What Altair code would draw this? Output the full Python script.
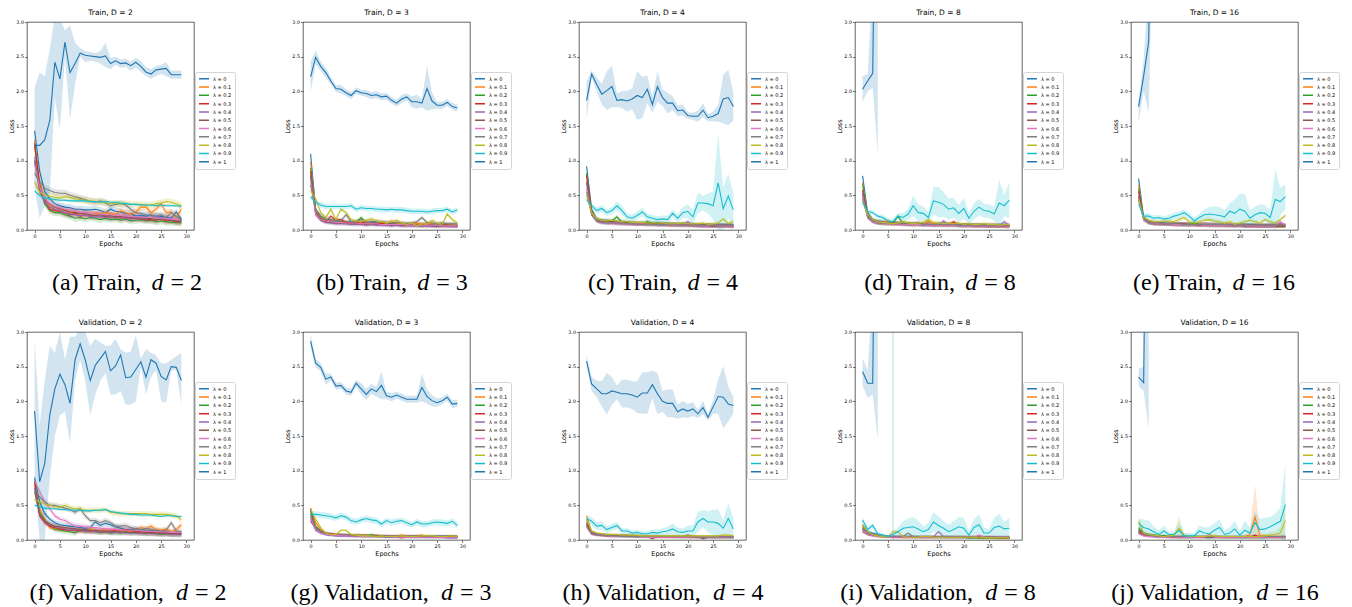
import altair as alt
import pandas as pd

LAMBDAS = ["λ = 0", "λ = 0.1", "λ = 0.2", "λ = 0.3", "λ = 0.4", "λ = 0.5",
           "λ = 0.6", "λ = 0.7", "λ = 0.8", "λ = 0.9", "λ = 1"]
COLORS = ["#1f77b4", "#ff7f0e", "#2ca02c", "#d62728", "#9467bd", "#8c564b",
          "#e377c2", "#7f7f7f", "#bcbd22", "#17becf", "#1f77b4"]
EPOCH_TICKS = [0, 5, 10, 15, 20, 25, 30]
LOSS_TICKS = [0.0, 0.5, 1.0, 1.5, 2.0, 2.5, 3.0]

# ---------------- Train, D = 2 ----------------
train_d2 = [
    [1.43,0.85,0.55,0.45,0.38,0.35,0.33,0.32,0.30,0.30,0.29,0.29,0.30,0.28,0.25,0.30,0.27,0.26,0.24,0.23,0.20,0.21,0.20,0.22,0.19,0.20,0.18,0.17,0.26,0.15],
    [1.30,0.70,0.45,0.35,0.30,0.30,0.28,0.25,0.27,0.23,0.25,0.22,0.25,0.23,0.26,0.24,0.22,0.28,0.25,0.23,0.26,0.33,0.33,0.25,0.30,0.38,0.25,0.26,0.18,0.30],
    [1.22,0.60,0.38,0.28,0.25,0.25,0.22,0.20,0.17,0.18,0.16,0.18,0.17,0.15,0.17,0.15,0.16,0.14,0.16,0.13,0.14,0.15,0.13,0.14,0.12,0.13,0.12,0.11,0.11,0.10],
    [1.25,0.65,0.42,0.30,0.28,0.27,0.25,0.22,0.24,0.20,0.22,0.20,0.21,0.19,0.20,0.18,0.19,0.17,0.18,0.16,0.17,0.16,0.15,0.15,0.14,0.16,0.13,0.14,0.12,0.12],
    [1.05,0.60,0.40,0.33,0.30,0.28,0.25,0.23,0.22,0.21,0.22,0.20,0.19,0.20,0.18,0.19,0.18,0.19,0.17,0.16,0.18,0.17,0.16,0.17,0.20,0.18,0.17,0.15,0.14,0.14],
    [1.00,0.55,0.45,0.37,0.33,0.31,0.28,0.26,0.25,0.24,0.24,0.22,0.21,0.22,0.20,0.21,0.19,0.20,0.19,0.18,0.17,0.18,0.17,0.16,0.15,0.16,0.15,0.14,0.13,0.13],
    [0.95,0.62,0.45,0.38,0.34,0.32,0.30,0.29,0.27,0.26,0.25,0.24,0.23,0.23,0.22,0.22,0.21,0.21,0.20,0.20,0.19,0.19,0.18,0.18,0.17,0.17,0.16,0.16,0.15,0.15],
    [0.82,0.70,0.60,0.57,0.54,0.53,0.53,0.50,0.48,0.46,0.44,0.41,0.40,0.42,0.39,0.35,0.37,0.38,0.36,0.30,0.25,0.24,0.22,0.21,0.20,0.22,0.18,0.25,0.20,0.14],
    [0.69,0.55,0.50,0.49,0.47,0.46,0.48,0.47,0.45,0.44,0.43,0.42,0.41,0.40,0.40,0.38,0.39,0.38,0.38,0.37,0.37,0.37,0.36,0.36,0.38,0.39,0.41,0.40,0.38,0.35],
    [0.56,0.50,0.46,0.45,0.44,0.43,0.43,0.42,0.42,0.42,0.42,0.41,0.41,0.40,0.41,0.40,0.40,0.39,0.38,0.37,0.37,0.36,0.36,0.36,0.35,0.36,0.35,0.35,0.35,0.34],
    [1.22,1.22,1.30,1.58,2.42,2.18,2.71,2.27,2.40,2.55,2.52,2.51,2.50,2.49,2.51,2.40,2.44,2.40,2.41,2.37,2.42,2.36,2.28,2.25,2.31,2.32,2.33,2.24,2.24,2.24],
]
train_d2_top_lo = [0.60,0.17,0.35,0.55,1.90,1.45,2.50,1.60,2.10,2.50,2.42,2.44,2.43,2.40,2.35,2.32,2.38,2.34,2.35,2.30,2.34,2.28,2.22,2.18,2.22,2.25,2.22,2.18,2.18,2.18]
train_d2_top_hi = [2.05,2.27,2.22,2.60,3.10,3.05,2.88,2.95,2.70,2.62,2.58,2.57,2.55,2.58,2.70,2.48,2.50,2.46,2.47,2.43,2.48,2.44,2.35,2.32,2.37,2.38,2.42,2.30,2.30,2.30]
train_d2_cyan_hw = 0.02
train_d2_spread = 0.05

# ---------------- Train, D = 3 ----------------
train_d3 = [
    [1.10,0.30,0.20,0.15,0.15,0.12,0.12,0.11,0.12,0.10,0.10,0.10,0.12,0.10,0.10,0.09,0.10,0.09,0.09,0.09,0.08,0.08,0.08,0.08,0.08,0.08,0.09,0.08,0.08,0.07],
    [0.98,0.28,0.18,0.14,0.13,0.15,0.12,0.11,0.10,0.13,0.11,0.12,0.10,0.09,0.11,0.10,0.13,0.09,0.10,0.08,0.09,0.10,0.08,0.09,0.10,0.07,0.09,0.08,0.08,0.07],
    [0.90,0.26,0.17,0.13,0.12,0.11,0.12,0.10,0.10,0.11,0.18,0.10,0.09,0.10,0.09,0.08,0.09,0.08,0.08,0.09,0.07,0.08,0.07,0.08,0.07,0.07,0.08,0.07,0.07,0.05],
    [0.85,0.25,0.16,0.12,0.20,0.14,0.15,0.11,0.10,0.10,0.12,0.09,0.10,0.09,0.10,0.08,0.09,0.08,0.07,0.08,0.08,0.07,0.08,0.07,0.07,0.06,0.07,0.07,0.06,0.06],
    [0.80,0.22,0.14,0.11,0.10,0.09,0.09,0.09,0.08,0.08,0.08,0.07,0.08,0.07,0.07,0.07,0.06,0.07,0.06,0.06,0.06,0.06,0.06,0.05,0.06,0.05,0.05,0.05,0.05,0.05],
    [0.78,0.24,0.15,0.12,0.11,0.10,0.10,0.10,0.09,0.09,0.09,0.08,0.09,0.08,0.08,0.08,0.07,0.08,0.07,0.07,0.07,0.07,0.06,0.07,0.06,0.06,0.06,0.06,0.06,0.06],
    [0.70,0.23,0.15,0.13,0.12,0.11,0.11,0.10,0.10,0.10,0.09,0.09,0.09,0.09,0.08,0.08,0.08,0.08,0.08,0.07,0.07,0.07,0.07,0.07,0.07,0.07,0.06,0.06,0.06,0.06],
    [0.65,0.30,0.20,0.16,0.14,0.15,0.13,0.22,0.12,0.12,0.15,0.12,0.11,0.13,0.12,0.11,0.10,0.11,0.10,0.09,0.10,0.12,0.18,0.11,0.10,0.09,0.10,0.09,0.09,0.09],
    [0.57,0.45,0.25,0.18,0.30,0.15,0.30,0.25,0.15,0.13,0.12,0.14,0.16,0.13,0.12,0.10,0.12,0.14,0.10,0.08,0.10,0.06,0.09,0.08,0.14,0.10,0.08,0.23,0.15,0.10],
    [0.48,0.40,0.36,0.34,0.34,0.34,0.34,0.34,0.35,0.30,0.32,0.31,0.31,0.30,0.30,0.29,0.30,0.29,0.29,0.28,0.27,0.27,0.27,0.26,0.27,0.28,0.28,0.30,0.26,0.29],
    [2.21,2.49,2.36,2.27,2.15,2.04,2.03,1.98,1.94,2.01,1.98,1.97,1.94,1.95,1.92,1.93,1.87,1.83,1.89,1.92,1.85,1.85,1.83,2.04,1.86,1.80,1.80,1.84,1.78,1.76],
]
train_d3_top_hw = [0.22,0.10,0.07,0.07,0.06,0.05,0.06,0.05,0.05,0.05,0.04,0.05,0.05,0.05,0.05,0.05,0.05,0.05,0.06,0.05,0.08,0.10,0.06,0.32,0.12,0.05,0.05,0.05,0.05,0.05]
train_d3_cyan_hw = 0.04
train_d3_spread = 0.03

# ---------------- Train, D = 4 ----------------
train_d4 = [
    [0.92,0.30,0.16,0.14,0.14,0.13,0.12,0.12,0.11,0.10,0.10,0.10,0.11,0.09,0.10,0.09,0.09,0.09,0.08,0.09,0.08,0.08,0.08,0.07,0.07,0.07,0.07,0.07,0.07,0.07],
    [0.80,0.28,0.15,0.13,0.13,0.12,0.11,0.11,0.10,0.10,0.09,0.09,0.09,0.09,0.08,0.09,0.08,0.08,0.08,0.08,0.07,0.07,0.07,0.07,0.07,0.06,0.07,0.06,0.06,0.06],
    [0.82,0.27,0.15,0.12,0.12,0.13,0.19,0.11,0.10,0.10,0.10,0.09,0.12,0.09,0.09,0.08,0.08,0.08,0.08,0.08,0.07,0.07,0.07,0.07,0.07,0.06,0.06,0.06,0.06,0.06],
    [0.78,0.26,0.14,0.12,0.11,0.11,0.10,0.10,0.10,0.09,0.09,0.09,0.08,0.09,0.08,0.08,0.08,0.07,0.08,0.07,0.07,0.07,0.07,0.06,0.06,0.06,0.06,0.06,0.06,0.05],
    [0.70,0.24,0.13,0.11,0.10,0.10,0.10,0.09,0.09,0.09,0.08,0.09,0.08,0.08,0.08,0.07,0.08,0.07,0.07,0.07,0.12,0.07,0.06,0.06,0.06,0.06,0.06,0.06,0.06,0.05],
    [0.68,0.25,0.14,0.12,0.11,0.12,0.11,0.10,0.10,0.10,0.09,0.09,0.09,0.09,0.08,0.09,0.08,0.08,0.08,0.08,0.08,0.07,0.07,0.07,0.07,0.07,0.07,0.07,0.07,0.06],
    [0.60,0.22,0.13,0.11,0.11,0.10,0.10,0.10,0.09,0.09,0.09,0.09,0.08,0.08,0.08,0.08,0.08,0.07,0.07,0.07,0.07,0.07,0.07,0.06,0.06,0.08,0.06,0.06,0.06,0.06],
    [0.55,0.22,0.13,0.11,0.11,0.10,0.10,0.10,0.09,0.09,0.09,0.08,0.08,0.08,0.08,0.08,0.08,0.08,0.07,0.07,0.07,0.07,0.07,0.07,0.07,0.07,0.07,0.07,0.07,0.07],
    [0.50,0.25,0.16,0.14,0.13,0.14,0.13,0.12,0.12,0.11,0.11,0.11,0.10,0.10,0.10,0.10,0.09,0.09,0.09,0.10,0.09,0.09,0.09,0.10,0.08,0.09,0.10,0.16,0.10,0.12],
    [0.44,0.35,0.28,0.31,0.25,0.28,0.35,0.28,0.19,0.17,0.21,0.26,0.19,0.17,0.15,0.16,0.15,0.24,0.17,0.25,0.27,0.19,0.39,0.39,0.38,0.35,0.68,0.31,0.49,0.29],
    [1.87,2.25,2.10,1.96,2.01,2.07,1.87,1.88,1.86,1.89,1.94,1.91,2.03,1.81,2.07,1.91,1.83,1.83,1.72,1.73,1.65,1.64,1.64,1.73,1.62,1.64,1.68,1.89,1.91,1.78],
]
train_d4_top_hw = [0.27,0.05,0.10,0.15,0.28,0.30,0.10,0.12,0.15,0.15,0.35,0.30,0.20,0.12,0.22,0.12,0.15,0.10,0.08,0.08,0.05,0.05,0.08,0.10,0.05,0.07,0.12,0.35,0.40,0.20]
train_d4_cyan_hw = [0.04,0.04,0.05,0.05,0.05,0.05,0.07,0.07,0.05,0.05,0.06,0.06,0.05,0.05,0.05,0.05,0.06,0.06,0.06,0.08,0.10,0.10,0.15,0.10,0.15,0.20,0.70,0.30,0.32,0.25]
train_d4_spread = 0.03

# ---------------- Train, D = 8 ----------------
train_d8 = [
    [0.78,0.25,0.15,0.13,0.12,0.12,0.10,0.10,0.10,0.09,0.09,0.09,0.09,0.08,0.08,0.08,0.08,0.08,0.08,0.07,0.07,0.07,0.07,0.07,0.07,0.06,0.06,0.06,0.06,0.06],
    [0.68,0.22,0.14,0.12,0.11,0.13,0.10,0.10,0.09,0.09,0.09,0.09,0.08,0.13,0.08,0.08,0.08,0.07,0.08,0.07,0.07,0.07,0.07,0.06,0.07,0.06,0.06,0.06,0.06,0.06],
    [0.66,0.20,0.13,0.11,0.10,0.10,0.10,0.20,0.09,0.09,0.08,0.08,0.08,0.08,0.08,0.08,0.07,0.08,0.07,0.07,0.07,0.07,0.07,0.07,0.06,0.06,0.06,0.06,0.06,0.05],
    [0.58,0.19,0.13,0.11,0.10,0.10,0.09,0.09,0.09,0.08,0.08,0.08,0.08,0.08,0.07,0.08,0.07,0.07,0.12,0.07,0.07,0.07,0.06,0.06,0.06,0.06,0.06,0.06,0.05,0.05],
    [0.55,0.18,0.12,0.10,0.10,0.09,0.09,0.09,0.08,0.08,0.08,0.08,0.07,0.08,0.07,0.07,0.13,0.07,0.07,0.07,0.06,0.07,0.06,0.06,0.06,0.06,0.06,0.06,0.12,0.06],
    [0.52,0.20,0.13,0.11,0.10,0.10,0.10,0.09,0.09,0.09,0.08,0.09,0.08,0.08,0.08,0.08,0.08,0.07,0.08,0.07,0.07,0.07,0.07,0.07,0.07,0.06,0.07,0.06,0.06,0.06],
    [0.48,0.18,0.12,0.10,0.10,0.09,0.09,0.09,0.08,0.08,0.08,0.08,0.08,0.07,0.07,0.07,0.07,0.07,0.07,0.07,0.06,0.06,0.06,0.06,0.06,0.06,0.06,0.06,0.06,0.05],
    [0.45,0.19,0.13,0.11,0.10,0.10,0.10,0.10,0.09,0.09,0.09,0.10,0.08,0.08,0.08,0.08,0.08,0.08,0.08,0.07,0.07,0.07,0.07,0.07,0.07,0.07,0.07,0.07,0.07,0.07],
    [0.42,0.22,0.15,0.12,0.11,0.10,0.09,0.10,0.12,0.10,0.09,0.10,0.11,0.15,0.11,0.10,0.09,0.10,0.09,0.10,0.08,0.09,0.08,0.08,0.09,0.08,0.08,0.07,0.08,0.08],
    [0.40,0.27,0.25,0.20,0.18,0.13,0.12,0.20,0.18,0.23,0.35,0.25,0.24,0.18,0.42,0.40,0.37,0.30,0.32,0.24,0.31,0.17,0.27,0.33,0.28,0.27,0.23,0.39,0.35,0.43],
    [2.03,2.15,2.26,8.00],
]
train_d8_top_lo = [1.85,2.00,2.05,1.10]
train_d8_top_hi = [2.22,2.25,3.60,15.0]
train_d8_cyan_hw = [0.04,0.03,0.03,0.03,0.04,0.04,0.04,0.05,0.06,0.08,0.15,0.12,0.10,0.08,0.20,0.22,0.18,0.15,0.15,0.12,0.15,0.08,0.12,0.12,0.10,0.10,0.10,0.33,0.15,0.26]
train_d8_spread = 0.03

# ---------------- Train, D = 16 ----------------
train_d16 = [
    [0.74,0.18,0.12,0.10,0.10,0.10,0.09,0.09,0.09,0.08,0.08,0.08,0.08,0.08,0.08,0.07,0.07,0.07,0.07,0.07,0.07,0.07,0.07,0.07,0.06,0.06,0.06,0.06,0.06,0.06],
    [0.65,0.17,0.11,0.10,0.10,0.09,0.09,0.08,0.08,0.08,0.08,0.08,0.08,0.07,0.07,0.07,0.07,0.07,0.07,0.07,0.07,0.06,0.06,0.06,0.06,0.06,0.06,0.06,0.06,0.06],
    [0.60,0.16,0.11,0.10,0.09,0.09,0.09,0.09,0.08,0.08,0.08,0.10,0.08,0.08,0.07,0.07,0.07,0.07,0.07,0.07,0.07,0.07,0.06,0.06,0.06,0.06,0.06,0.06,0.06,0.06],
    [0.56,0.16,0.11,0.10,0.09,0.09,0.09,0.08,0.08,0.08,0.08,0.08,0.07,0.08,0.07,0.07,0.07,0.07,0.07,0.07,0.07,0.06,0.06,0.06,0.06,0.06,0.06,0.06,0.06,0.06],
    [0.50,0.15,0.11,0.09,0.09,0.09,0.08,0.08,0.08,0.08,0.08,0.08,0.07,0.07,0.07,0.07,0.07,0.07,0.07,0.06,0.07,0.06,0.06,0.06,0.06,0.06,0.06,0.06,0.10,0.06],
    [0.48,0.17,0.12,0.10,0.10,0.09,0.09,0.09,0.09,0.09,0.08,0.08,0.08,0.08,0.08,0.08,0.08,0.07,0.07,0.07,0.07,0.07,0.07,0.07,0.07,0.07,0.07,0.07,0.07,0.07],
    [0.45,0.15,0.11,0.10,0.09,0.09,0.09,0.08,0.08,0.08,0.08,0.08,0.08,0.07,0.07,0.07,0.07,0.07,0.07,0.07,0.07,0.07,0.06,0.06,0.06,0.06,0.06,0.06,0.12,0.06],
    [0.44,0.16,0.11,0.10,0.10,0.09,0.09,0.09,0.09,0.08,0.08,0.08,0.08,0.08,0.08,0.08,0.08,0.08,0.07,0.07,0.07,0.07,0.07,0.07,0.07,0.07,0.07,0.07,0.07,0.07],
    [0.45,0.18,0.14,0.12,0.12,0.13,0.13,0.12,0.15,0.18,0.12,0.10,0.12,0.14,0.15,0.13,0.12,0.10,0.12,0.08,0.10,0.12,0.14,0.12,0.10,0.15,0.12,0.10,0.15,0.21],
    [0.38,0.20,0.20,0.17,0.18,0.16,0.17,0.20,0.22,0.25,0.20,0.13,0.18,0.22,0.23,0.22,0.21,0.19,0.27,0.24,0.30,0.27,0.17,0.22,0.25,0.24,0.18,0.44,0.41,0.48],
    [1.78,2.22,2.72,9.00],
]
train_d16_top_lo = [1.55,2.00,1.70,5.00]
train_d16_top_hi = [1.85,2.45,3.60,15.0]
train_d16_cyan_hw = [0.04,0.04,0.04,0.04,0.04,0.04,0.05,0.05,0.05,0.05,0.05,0.05,0.05,0.08,0.10,0.12,0.12,0.10,0.12,0.20,0.22,0.25,0.12,0.12,0.12,0.12,0.10,0.44,0.20,0.18]
train_d16_spread = 0.03

# ---------------- Validation, D = 2 ----------------
val_d2 = [
    [0.90,0.55,0.38,0.30,0.25,0.22,0.21,0.20,0.19,0.18,0.17,0.18,0.26,0.21,0.24,0.22,0.19,0.17,0.15,0.15,0.16,0.15,0.14,0.14,0.13,0.12,0.12,0.11,0.10,0.10],
    [0.80,0.45,0.30,0.18,0.16,0.18,0.15,0.17,0.14,0.15,0.13,0.16,0.14,0.13,0.15,0.12,0.14,0.13,0.12,0.13,0.14,0.18,0.16,0.20,0.15,0.14,0.16,0.12,0.15,0.22],
    [0.85,0.40,0.28,0.22,0.15,0.14,0.13,0.12,0.10,0.15,0.12,0.13,0.12,0.11,0.12,0.10,0.11,0.10,0.12,0.10,0.11,0.10,0.09,0.10,0.09,0.08,0.09,0.08,0.08,0.08],
    [0.84,0.35,0.25,0.20,0.18,0.16,0.15,0.14,0.14,0.13,0.14,0.12,0.13,0.12,0.12,0.13,0.14,0.15,0.15,0.14,0.12,0.12,0.11,0.11,0.10,0.10,0.10,0.09,0.09,0.09],
    [0.75,0.38,0.27,0.22,0.19,0.18,0.16,0.15,0.15,0.14,0.13,0.13,0.12,0.12,0.12,0.11,0.11,0.11,0.10,0.10,0.10,0.10,0.10,0.09,0.09,0.09,0.09,0.08,0.08,0.08],
    [0.70,0.36,0.28,0.23,0.20,0.19,0.18,0.17,0.16,0.15,0.15,0.14,0.14,0.13,0.13,0.12,0.12,0.12,0.11,0.11,0.11,0.10,0.10,0.10,0.10,0.09,0.09,0.09,0.09,0.09],
    [0.85,0.70,0.55,0.45,0.35,0.30,0.28,0.24,0.20,0.20,0.19,0.18,0.18,0.17,0.16,0.16,0.15,0.15,0.14,0.14,0.14,0.13,0.13,0.13,0.12,0.12,0.12,0.11,0.11,0.11],
    [0.73,0.62,0.55,0.50,0.50,0.48,0.46,0.44,0.40,0.45,0.35,0.28,0.28,0.25,0.28,0.25,0.20,0.20,0.21,0.18,0.16,0.15,0.17,0.15,0.14,0.13,0.14,0.25,0.13,0.12],
    [0.58,0.55,0.52,0.50,0.48,0.47,0.50,0.47,0.45,0.45,0.43,0.43,0.43,0.43,0.44,0.40,0.39,0.38,0.38,0.38,0.38,0.38,0.38,0.37,0.37,0.37,0.37,0.36,0.35,0.29],
    [0.50,0.48,0.46,0.45,0.45,0.44,0.44,0.43,0.43,0.43,0.42,0.42,0.43,0.43,0.44,0.41,0.40,0.39,0.38,0.37,0.37,0.36,0.36,0.36,0.35,0.34,0.35,0.35,0.34,0.34],
    [1.86,0.84,1.10,1.80,2.18,2.39,2.24,1.97,2.60,2.83,2.60,2.30,2.52,2.62,2.72,2.44,2.51,2.67,2.34,2.35,2.46,2.57,2.35,2.60,2.55,2.36,2.31,2.50,2.49,2.30],
]
val_d2_top_lo = [0.80,0.00,0.00,0.90,1.50,1.80,1.85,1.40,2.30,2.60,2.30,1.80,2.10,2.30,2.40,2.10,2.10,2.15,1.95,1.95,2.00,2.50,2.10,2.35,2.45,2.00,1.98,2.45,2.45,1.95]
val_d2_top_hi = [2.90,1.65,2.30,2.80,2.70,3.00,2.60,2.93,2.93,3.05,3.00,2.80,2.90,2.85,2.80,2.80,2.90,2.75,2.70,2.72,2.95,2.62,2.75,2.70,2.66,2.55,2.55,2.60,2.65,2.70]
val_d2_cyan_hw = 0.02
val_d2_spread = 0.04

# ---------------- Validation, D = 3 ----------------
val_d3 = [
    [0.42,0.15,0.10,0.08,0.07,0.07,0.06,0.06,0.06,0.06,0.05,0.05,0.05,0.05,0.05,0.05,0.05,0.05,0.05,0.05,0.04,0.04,0.04,0.04,0.04,0.04,0.04,0.04,0.04,0.04],
    [0.46,0.25,0.15,0.10,0.09,0.08,0.08,0.07,0.07,0.08,0.07,0.07,0.06,0.07,0.06,0.06,0.06,0.06,0.07,0.06,0.06,0.06,0.07,0.05,0.05,0.05,0.05,0.05,0.06,0.05],
    [0.38,0.20,0.13,0.09,0.08,0.07,0.07,0.07,0.06,0.06,0.06,0.06,0.08,0.06,0.06,0.05,0.05,0.05,0.05,0.05,0.05,0.05,0.05,0.05,0.05,0.05,0.05,0.05,0.05,0.04],
    [0.27,0.17,0.12,0.10,0.09,0.08,0.08,0.07,0.07,0.06,0.06,0.06,0.06,0.05,0.05,0.05,0.05,0.05,0.03,0.05,0.05,0.05,0.05,0.04,0.04,0.04,0.04,0.04,0.04,0.04],
    [0.30,0.14,0.10,0.08,0.07,0.06,0.06,0.06,0.05,0.05,0.06,0.05,0.05,0.05,0.05,0.04,0.04,0.04,0.04,0.04,0.04,0.04,0.04,0.04,0.04,0.04,0.04,0.03,0.03,0.03],
    [0.45,0.18,0.12,0.09,0.08,0.07,0.07,0.07,0.07,0.06,0.06,0.06,0.06,0.06,0.06,0.06,0.05,0.05,0.05,0.05,0.05,0.05,0.05,0.05,0.05,0.05,0.05,0.05,0.05,0.05],
    [0.32,0.15,0.10,0.08,0.07,0.07,0.06,0.06,0.06,0.06,0.05,0.05,0.05,0.05,0.05,0.05,0.05,0.04,0.04,0.04,0.04,0.04,0.04,0.04,0.04,0.04,0.04,0.04,0.04,0.04],
    [0.35,0.18,0.12,0.10,0.09,0.08,0.08,0.08,0.07,0.07,0.07,0.07,0.06,0.06,0.06,0.06,0.06,0.06,0.06,0.06,0.06,0.06,0.06,0.06,0.06,0.06,0.06,0.06,0.06,0.06],
    [0.44,0.30,0.18,0.10,0.08,0.08,0.14,0.14,0.08,0.07,0.06,0.06,0.06,0.05,0.06,0.05,0.05,0.05,0.06,0.05,0.05,0.05,0.06,0.06,0.06,0.05,0.05,0.05,0.06,0.05],
    [0.37,0.37,0.36,0.35,0.34,0.32,0.35,0.33,0.28,0.26,0.29,0.31,0.29,0.28,0.23,0.28,0.25,0.27,0.28,0.25,0.22,0.26,0.23,0.23,0.25,0.26,0.25,0.24,0.27,0.21],
    [2.87,2.55,2.49,2.32,2.35,2.22,2.23,2.15,2.13,2.26,2.18,2.10,2.18,2.14,2.23,2.08,2.06,2.09,2.06,2.03,2.03,2.03,2.20,2.07,2.01,1.98,2.01,2.06,1.96,1.97],
]
val_d3_top_hw = [0.10,0.06,0.06,0.08,0.05,0.05,0.05,0.05,0.05,0.05,0.08,0.08,0.07,0.07,0.20,0.05,0.06,0.05,0.05,0.05,0.05,0.05,0.20,0.10,0.08,0.06,0.05,0.05,0.06,0.05]
val_d3_cyan_hw = 0.045
val_d3_spread = 0.02

# ---------------- Validation, D = 4 ----------------
val_d4 = [
    [0.22,0.10,0.08,0.08,0.07,0.07,0.06,0.06,0.06,0.06,0.05,0.05,0.05,0.05,0.05,0.05,0.05,0.05,0.05,0.04,0.04,0.04,0.04,0.04,0.04,0.04,0.04,0.04,0.04,0.04],
    [0.35,0.12,0.09,0.08,0.07,0.07,0.07,0.06,0.06,0.06,0.06,0.06,0.05,0.05,0.05,0.05,0.05,0.05,0.05,0.05,0.05,0.04,0.04,0.04,0.04,0.04,0.04,0.04,0.04,0.04],
    [0.25,0.10,0.08,0.07,0.07,0.06,0.06,0.06,0.06,0.05,0.05,0.05,0.05,0.05,0.05,0.05,0.05,0.04,0.04,0.04,0.04,0.04,0.04,0.04,0.04,0.04,0.04,0.04,0.04,0.04],
    [0.20,0.09,0.08,0.07,0.06,0.06,0.06,0.06,0.05,0.05,0.05,0.05,0.05,0.05,0.04,0.04,0.04,0.04,0.04,0.04,0.04,0.04,0.04,0.04,0.04,0.04,0.04,0.04,0.04,0.04],
    [0.28,0.11,0.09,0.08,0.08,0.07,0.07,0.07,0.07,0.06,0.06,0.06,0.06,0.06,0.06,0.05,0.05,0.05,0.05,0.05,0.05,0.05,0.05,0.05,0.05,0.05,0.05,0.05,0.05,0.05],
    [0.24,0.10,0.08,0.07,0.07,0.06,0.06,0.06,0.06,0.06,0.05,0.05,0.05,0.02,0.05,0.05,0.05,0.05,0.05,0.05,0.07,0.05,0.05,0.02,0.04,0.04,0.04,0.04,0.04,0.04],
    [0.18,0.08,0.07,0.06,0.06,0.05,0.05,0.05,0.05,0.05,0.05,0.04,0.04,0.04,0.04,0.04,0.04,0.04,0.04,0.04,0.04,0.04,0.04,0.04,0.04,0.04,0.04,0.04,0.04,0.04],
    [0.21,0.09,0.07,0.07,0.06,0.06,0.06,0.05,0.05,0.05,0.05,0.05,0.05,0.05,0.05,0.05,0.05,0.05,0.05,0.05,0.05,0.05,0.04,0.04,0.04,0.04,0.04,0.04,0.04,0.04],
    [0.30,0.13,0.10,0.09,0.08,0.08,0.08,0.07,0.07,0.07,0.07,0.06,0.06,0.06,0.06,0.06,0.06,0.06,0.06,0.06,0.06,0.06,0.06,0.06,0.06,0.06,0.06,0.07,0.07,0.06],
    [0.31,0.27,0.20,0.21,0.15,0.18,0.21,0.13,0.13,0.10,0.11,0.09,0.09,0.11,0.10,0.12,0.13,0.16,0.12,0.11,0.13,0.13,0.26,0.31,0.26,0.26,0.24,0.17,0.31,0.16],
    [2.58,2.25,2.18,2.11,2.11,2.15,2.13,2.11,2.11,2.09,2.06,2.12,2.12,2.24,2.11,2.00,1.97,1.97,1.85,1.89,1.86,1.89,1.82,1.91,1.77,1.92,2.07,2.06,1.96,1.94],
]
val_d4_top_hw = [0.08,0.10,0.12,0.18,0.30,0.20,0.10,0.20,0.20,0.20,0.23,0.30,0.30,0.20,0.30,0.15,0.20,0.20,0.10,0.12,0.10,0.10,0.06,0.10,0.05,0.10,0.25,0.45,0.25,0.12]
val_d4_cyan_hw = [0.04,0.06,0.06,0.06,0.05,0.05,0.05,0.04,0.04,0.04,0.04,0.04,0.04,0.04,0.05,0.05,0.06,0.08,0.06,0.06,0.08,0.08,0.15,0.12,0.15,0.18,0.20,0.12,0.22,0.16]
val_d4_spread = 0.02

# ---------------- Validation, D = 8 ----------------
val_d8 = [
    [0.22,0.12,0.10,0.08,0.06,0.05,0.05,0.05,0.05,0.05,0.05,0.04,0.04,0.04,0.04,0.04,0.04,0.04,0.04,0.04,0.04,0.04,0.04,0.04,0.04,0.04,0.03,0.03,0.03,0.03],
    [0.20,0.10,0.08,0.07,0.06,0.05,0.05,0.05,0.04,0.04,0.04,0.04,0.04,0.04,0.04,0.04,0.04,0.04,0.04,0.04,0.04,0.04,0.04,0.03,0.03,0.03,0.03,0.03,0.03,0.03],
    [0.18,0.09,0.07,0.06,0.05,0.05,0.05,0.05,0.05,0.04,0.04,0.04,0.04,0.04,0.04,0.04,0.04,0.04,0.04,0.04,0.04,0.03,0.03,0.03,0.03,0.03,0.03,0.03,0.03,0.03],
    [0.15,0.08,0.07,0.06,0.05,0.05,0.04,0.04,0.04,0.04,0.04,0.04,0.04,0.04,0.04,0.04,0.04,0.04,0.04,0.04,0.04,0.04,0.04,0.05,0.04,0.04,0.04,0.03,0.03,0.03],
    [0.16,0.09,0.07,0.06,0.05,0.05,0.05,0.05,0.05,0.05,0.05,0.05,0.05,0.05,0.05,0.12,0.05,0.05,0.05,0.05,0.04,0.04,0.04,0.04,0.04,0.04,0.04,0.04,0.04,0.04],
    [0.12,0.08,0.07,0.06,0.05,0.05,0.04,0.04,0.04,0.04,0.04,0.04,0.04,0.04,0.04,0.04,0.04,0.04,0.04,0.04,0.04,0.04,0.04,0.04,0.04,0.04,0.04,0.04,0.04,0.04],
    [0.14,0.08,0.06,0.05,0.05,0.04,0.04,0.04,0.04,0.04,0.04,0.04,0.04,0.04,0.04,0.04,0.04,0.04,0.04,0.04,0.04,0.04,0.04,0.07,0.04,0.04,0.04,0.04,0.04,0.04],
    [0.17,0.10,0.08,0.06,0.06,0.05,0.05,0.05,0.05,0.10,0.05,0.05,0.05,0.05,0.05,0.05,0.05,0.04,0.04,0.04,0.04,0.04,0.04,0.04,0.04,0.04,0.04,0.04,0.04,0.04],
    [0.22,0.12,0.08,0.06,0.05,0.04,0.12,0.12,0.05,0.04,0.04,0.04,0.05,0.05,0.04,0.04,0.04,0.04,0.04,0.04,0.04,0.04,0.04,0.04,0.04,0.03,0.03,0.03,0.03,0.03],
    [0.29,0.15,0.21,0.09,0.07,0.05,0.08,0.12,0.17,0.18,0.19,0.16,0.12,0.15,0.26,0.21,0.17,0.12,0.15,0.19,0.17,0.07,0.18,0.22,0.10,0.10,0.18,0.20,0.16,0.17],
    [2.43,2.26,2.26,9.00],
]
val_d8_top_lo = [2.22,2.05,2.10,1.45]
val_d8_top_hi = [2.62,2.45,3.60,15.0]
val_d8_cyan_hw = [0.04,0.04,0.04,0.03,0.03,0.02,0.04,0.06,0.10,0.13,0.14,0.12,0.08,0.10,0.14,0.13,0.10,0.10,0.12,0.14,0.15,0.06,0.12,0.15,0.08,0.06,0.14,0.18,0.10,0.15]
val_d8_spread = 0.02
val_d8_spike_epoch = [6]
val_d8_spike_lo = [0.0]
val_d8_spike_hi = [3.0]

# ---------------- Validation, D = 16 ----------------
val_d16 = [
    [0.15,0.10,0.08,0.07,0.06,0.06,0.05,0.05,0.05,0.05,0.05,0.05,0.05,0.05,0.04,0.04,0.04,0.04,0.04,0.04,0.04,0.04,0.04,0.04,0.04,0.04,0.04,0.04,0.04,0.04],
    [0.13,0.08,0.07,0.06,0.05,0.05,0.05,0.04,0.04,0.04,0.04,0.05,0.04,0.04,0.05,0.04,0.04,0.04,0.04,0.04,0.04,0.05,0.08,0.33,0.06,0.06,0.05,0.05,0.05,0.05],
    [0.18,0.10,0.08,0.07,0.06,0.06,0.05,0.05,0.05,0.05,0.05,0.05,0.05,0.05,0.05,0.05,0.05,0.04,0.04,0.04,0.04,0.04,0.04,0.04,0.04,0.04,0.04,0.04,0.04,0.04],
    [0.12,0.08,0.06,0.06,0.05,0.05,0.04,0.04,0.04,0.04,0.04,0.04,0.04,0.04,0.04,0.04,0.04,0.04,0.04,0.04,0.04,0.04,0.04,0.07,0.04,0.04,0.04,0.04,0.04,0.04],
    [0.10,0.07,0.06,0.05,0.05,0.05,0.05,0.04,0.04,0.04,0.04,0.04,0.04,0.04,0.04,0.04,0.04,0.04,0.04,0.04,0.04,0.04,0.04,0.04,0.04,0.04,0.04,0.04,0.04,0.04],
    [0.11,0.07,0.06,0.05,0.05,0.05,0.04,0.04,0.04,0.04,0.04,0.04,0.04,0.04,0.04,0.04,0.04,0.04,0.04,0.04,0.04,0.04,0.04,0.04,0.04,0.04,0.04,0.04,0.04,0.04],
    [0.09,0.06,0.05,0.05,0.04,0.04,0.04,0.04,0.04,0.04,0.04,0.04,0.04,0.04,0.08,0.04,0.04,0.04,0.04,0.04,0.04,0.04,0.04,0.04,0.04,0.04,0.04,0.04,0.04,0.04],
    [0.14,0.09,0.07,0.06,0.06,0.05,0.05,0.05,0.05,0.05,0.05,0.05,0.05,0.05,0.05,0.05,0.05,0.05,0.05,0.05,0.05,0.05,0.05,0.05,0.05,0.05,0.05,0.05,0.05,0.05],
    [0.27,0.10,0.08,0.07,0.06,0.05,0.06,0.07,0.17,0.07,0.05,0.05,0.05,0.05,0.06,0.06,0.05,0.05,0.05,0.05,0.05,0.05,0.05,0.05,0.05,0.06,0.07,0.08,0.10,0.28],
    [0.24,0.18,0.16,0.12,0.08,0.13,0.08,0.08,0.14,0.06,0.06,0.06,0.13,0.10,0.09,0.14,0.18,0.08,0.10,0.16,0.07,0.14,0.10,0.25,0.15,0.16,0.19,0.23,0.27,0.51],
    [2.35,2.27,9.00],
]
val_d16_top_lo = [2.22,2.15,1.60]
val_d16_top_hi = [2.47,2.50,15.0]
val_d16_cyan_hw = [0.06,0.12,0.12,0.08,0.06,0.08,0.04,0.04,0.12,0.04,0.04,0.04,0.08,0.08,0.10,0.10,0.12,0.06,0.08,0.12,0.06,0.14,0.08,0.16,0.15,0.16,0.14,0.15,0.20,0.60]
val_d16_orange_hw = [0.03,0.02,0.02,0.02,0.02,0.02,0.02,0.02,0.02,0.02,0.02,0.02,0.02,0.02,0.02,0.02,0.02,0.02,0.02,0.02,0.02,0.03,0.06,0.47,0.04,0.03,0.03,0.03,0.03,0.03]
val_d16_olive_hw = [0.08,0.03,0.02,0.02,0.02,0.02,0.02,0.03,0.18,0.03,0.02,0.02,0.02,0.02,0.03,0.03,0.02,0.02,0.02,0.02,0.02,0.02,0.02,0.02,0.02,0.03,0.04,0.05,0.08,0.32]
val_d16_spread = 0.02


def build(means, spread, cyan_hw, top_lo=None, top_hi=None, top_hw=None, extra_hw=None):
    rows = []
    for k, (lam, vals) in enumerate(zip(LAMBDAS, means)):
        for e, m in enumerate(vals):
            if k == 10:
                if top_hw is not None:
                    lo, hi = m - top_hw[e], m + top_hw[e]
                else:
                    lo, hi = top_lo[e], top_hi[e]
            else:
                if k == 9:
                    h = cyan_hw[e] if isinstance(cyan_hw, list) else cyan_hw
                elif extra_hw and k in extra_hw:
                    h = extra_hw[k][e]
                else:
                    h = spread
                lo, hi = m - h, m + h
            rows.append({"lam": lam, "epoch": e, "mean": m, "lo": lo, "hi": hi})
    return pd.DataFrame(rows)


W, H = 167, 208
SERIF_W = {"(": .333, ")": .333, " ": .25, ",": .25, "a": .444, "b": .5, "c": .444,
           "d": .5, "e": .444, "f": .333, "g": .5, "h": .5, "i": .278, "j": .278,
           "T": .611, "r": .333, "n": .5, "V": .722, "l": .278, "t": .278, "o": .5}
CAP_FS = 24


def tw(s, fs):
    return sum(SERIF_W.get(ch, 0.5) for ch in s) * fs


def caption_layers(prefix, num, cx, cy):
    wp = tw(prefix, CAP_FS)
    wd = 0.5 * CAP_FS
    we = 0.564 * CAP_FS
    wn = tw(num, CAP_FS)
    g1, g2, g3 = 9, 7, 6
    total = wp + g1 + wd + g2 + we + g3 + wn
    x0 = cx - total / 2
    pieces = [(prefix, x0, "normal"),
              ("d", x0 + wp + g1, "italic"),
              ("=", x0 + wp + g1 + wd + g2, "normal"),
              (num, x0 + wp + g1 + wd + g2 + we + g3, "normal")]
    out = []
    for txt, px, style in pieces:
        out.append(
            alt.Chart(pd.DataFrame({"t": [txt]}))
            .mark_text(align="left", baseline="middle", font="Liberation Serif",
                       fontSize=CAP_FS, fontStyle=style, color="black")
            .encode(x=alt.value(px), y=alt.value(cy), text="t:N")
        )
    return out


XS = alt.Scale(domain=[-1.5, 31.5], nice=False, zero=False)
YS = alt.Scale(domain=[0, 3], nice=False, zero=False)
CS = alt.Scale(domain=LAMBDAS, range=COLORS)
X_AXIS = alt.Axis(values=EPOCH_TICKS, format="d", title="Epochs")
Y_AXIS = alt.Axis(values=LOSS_TICKS, format=".1f", title="Loss", titlePadding=1.5)
LEGEND = alt.Legend(
    title=None, orient="none", legendX=W + 1, legendY=50,
    symbolType="stroke", symbolSize=100, symbolStrokeWidth=1.5,
    symbolOpacity=1, labelFontSize=5, labelFont="DejaVu Sans",
    labelColor="black", strokeColor="#d5d5d5", cornerRadius=2,
    padding=3, rowPadding=0.3, clipHeight=7.5, fillColor="white",
    labelOffset=3)


def panel(df, title, prefix, num, cap_cx, spike=None):
    base = alt.Chart(df)
    band = base.mark_area(opacity=0.2, clip=True).encode(
        x=alt.X("epoch:Q", scale=XS, axis=X_AXIS),
        y=alt.Y("lo:Q", scale=YS, axis=Y_AXIS),
        y2="hi:Q",
        color=alt.Color("lam:N", scale=CS, legend=LEGEND),
    )
    line = base.mark_line(strokeWidth=1.1, clip=True).encode(
        x=alt.X("epoch:Q", scale=XS, axis=X_AXIS),
        y=alt.Y("mean:Q", scale=YS, axis=Y_AXIS),
        color=alt.Color("lam:N", scale=CS, legend=LEGEND),
    )
    layers = [band]
    if spike is not None:
        layers.append(
            alt.Chart(spike).mark_rule(color="#1f77b4", opacity=0.25, strokeWidth=1.2, clip=True)
            .encode(x=alt.X("epoch:Q", scale=XS, axis=X_AXIS),
                    y=alt.Y("lo:Q", scale=YS, axis=Y_AXIS), y2="hi:Q")
        )
    layers.append(line)
    layers += caption_layers(prefix, num, cap_cx, H + 52.5)
    return alt.layer(*layers).properties(
        width=W, height=H,
        title=alt.TitleParams(title, fontSize=7.5, font="DejaVu Sans", fontWeight="normal",
                              color="black", offset=3, anchor="middle", frame="group"),
    )


spike_df = pd.DataFrame({"epoch": val_d8_spike_epoch, "lo": val_d8_spike_lo, "hi": val_d8_spike_hi})

panels = [
    panel(build(train_d2, train_d2_spread, train_d2_cyan_hw, top_lo=train_d2_top_lo, top_hi=train_d2_top_hi),
          "Train, D = 2", "(a) Train,", "2", 100),
    panel(build(train_d3, train_d3_spread, train_d3_cyan_hw, top_hw=train_d3_top_hw),
          "Train, D = 3", "(b) Train,", "3", 89),
    panel(build(train_d4, train_d4_spread, train_d4_cyan_hw, top_hw=train_d4_top_hw),
          "Train, D = 4", "(c) Train,", "4", 84),
    panel(build(train_d8, train_d8_spread, train_d8_cyan_hw, top_lo=train_d8_top_lo, top_hi=train_d8_top_hi),
          "Train, D = 8", "(d) Train,", "8", 85),
    panel(build(train_d16, train_d16_spread, train_d16_cyan_hw, top_lo=train_d16_top_lo, top_hi=train_d16_top_hi),
          "Train, D = 16", "(e) Train,", "16", 83),
    panel(build(val_d2, val_d2_spread, val_d2_cyan_hw, top_lo=val_d2_top_lo, top_hi=val_d2_top_hi),
          "Validation, D = 2", "(f) Validation,", "2", 101),
    panel(build(val_d3, val_d3_spread, val_d3_cyan_hw, top_hw=val_d3_top_hw),
          "Validation, D = 3", "(g) Validation,", "3", 88),
    panel(build(val_d4, val_d4_spread, val_d4_cyan_hw, top_hw=val_d4_top_hw),
          "Validation, D = 4", "(h) Validation,", "4", 84),
    panel(build(val_d8, val_d8_spread, val_d8_cyan_hw, top_lo=val_d8_top_lo, top_hi=val_d8_top_hi),
          "Validation, D = 8", "(i) Validation,", "8", 83, spike=spike_df),
    panel(build(val_d16, val_d16_spread, val_d16_cyan_hw, top_lo=val_d16_top_lo, top_hi=val_d16_top_hi,
                extra_hw={1: val_d16_orange_hw, 8: val_d16_olive_hw}),
          "Validation, D = 16", "(j) Validation,", "16", 84),
]

chart = (
    alt.concat(*panels, columns=5, spacing={"row": 102, "column": 109}, bounds="flush")
    .resolve_scale(color="independent")
    .resolve_legend(color="independent")
    .properties(padding={"left": 0, "top": 0, "right": 0, "bottom": 0}, background="white")
    .configure_view(stroke="#222222", strokeWidth=0.7)
    .configure_axis(grid=False, domain=False, labelFont="DejaVu Sans", labelFontSize=4.8,
                    labelColor="black", titleFont="DejaVu Sans", titleFontSize=6.5,
                    titleFontWeight="normal", titleColor="black", tickSize=2.5,
                    tickColor="#222222", tickWidth=0.6, labelPadding=1.0, titlePadding=2,
                    labelFlush=False, labelOverlap=False)
)

chart.save("out.html", embed_options={"renderer": "svg", "actions": False})
